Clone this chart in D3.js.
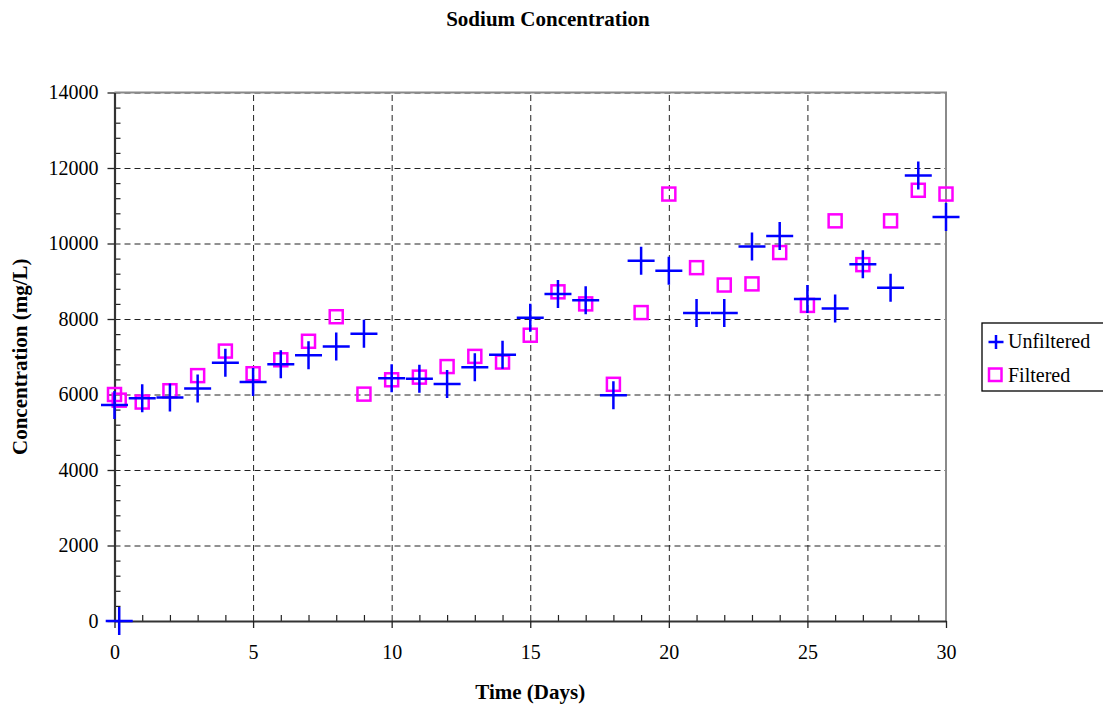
<!DOCTYPE html>
<html>
<head>
<meta charset="utf-8">
<script src="https://cdn.jsdelivr.net/npm/d3@7"></script>
<style>
  html, body { margin: 0; padding: 0; background: #fff; }
  svg { display: block; }
</style>
</head>
<body>
<svg id="chart" width="1103" height="708"></svg>
<script>
// Sampling times (days) and sodium concentrations (mg/L)
const unfilteredDays = [0, 0.17, 1, 2, 3, 4, 5, 6, 7, 8, 9, 10, 11, 12, 13, 14, 15, 16, 17, 18, 19, 20, 21, 22, 23, 24, 25, 26, 27, 28, 29, 30];
const unfilteredValues = [5720, 0, 5900, 5920, 6160, 6840, 6330, 6800, 7040, 7270, 7610, 6430, 6420, 6280, 6720, 7050, 8030, 8660, 8500, 5980, 9540, 9280, 8160, 8160, 9920, 10200, 8530, 8280, 9450, 8830, 11800, 10700];

const filteredDays = [0, 0.17, 1, 2, 3, 4, 5, 6, 7, 8, 9, 10, 11, 12, 13, 14, 15, 16, 17, 18, 19, 20, 21, 22, 23, 24, 25, 26, 27, 28, 29, 30];
const filteredValues = [6000, 5850, 5800, 6100, 6500, 7150, 6550, 6920, 7410, 8060, 6010, 6390, 6460, 6740, 7010, 6860, 7570, 8720, 8400, 6270, 8170, 11310, 9360, 8900, 8930, 9760, 8360, 10600, 9440, 10600, 11410, 11310];

const xMajorTicks = [0, 5, 10, 15, 20, 25, 30];
const yMajorTicks = [0, 2000, 4000, 6000, 8000, 10000, 12000, 14000];

const seriesNames = ["Unfiltered", "Filtered"];

const FONT = "'Liberation Serif', 'Times New Roman', Times, serif";

const svg = d3.select("#chart");
const plot = { left: 114.5, right: 946, top: 92.5, bottom: 621 };

const x = d3.scaleLinear().domain([0, 30]).range([plot.left, plot.right]);
const y = d3.scaleLinear().domain([0, 14000]).range([plot.bottom, plot.top]);

// Dashed grid at the major ticks
const grid = svg.append("g").attr("class", "grid");
grid.append("g")
  .attr("transform", `translate(0,${plot.bottom})`)
  .call(d3.axisBottom(x).tickValues(xMajorTicks).tickSize(-(plot.bottom - plot.top)).tickFormat(""))
  .call(g => g.select(".domain").remove());
grid.append("g")
  .attr("transform", `translate(${plot.left},0)`)
  .call(d3.axisLeft(y).tickValues(yMajorTicks).tickSize(-(plot.right - plot.left)).tickFormat(""))
  .call(g => g.select(".domain").remove());
grid.selectAll("line")
  .attr("stroke", "#222")
  .attr("stroke-width", 1)
  .attr("stroke-dasharray", "6,4");

// Plot frame: grey top and right edges
svg.append("path")
  .attr("d", `M${plot.left},${plot.top}H${plot.right}V${plot.bottom}`)
  .attr("fill", "none")
  .attr("stroke", "#8a8a8a")
  .attr("stroke-width", 2);

// Minor ticks pointing into the plot
const minorX = d3.range(0, 31, 1).filter(d => !xMajorTicks.includes(d));
const minorY = d3.range(0, 14001, 400).filter(d => !yMajorTicks.includes(d));
svg.append("g")
  .attr("transform", `translate(0,${plot.bottom})`)
  .call(d3.axisBottom(x).tickValues(minorX).tickSize(-6).tickFormat(""))
  .call(g => g.select(".domain").remove())
  .selectAll("line").attr("stroke", "#222").attr("stroke-width", 1.2);
svg.append("g")
  .attr("transform", `translate(${plot.left},0)`)
  .call(d3.axisLeft(y).tickValues(minorY).tickSize(-6).tickFormat(""))
  .call(g => g.select(".domain").remove())
  .selectAll("line").attr("stroke", "#222").attr("stroke-width", 1.2);

// Major axes with labels
const xAxis = svg.append("g")
  .attr("transform", `translate(0,${plot.bottom})`)
  .call(d3.axisBottom(x).tickValues(xMajorTicks).tickSizeInner(7).tickSizeOuter(0).tickPadding(17));
const yAxis = svg.append("g")
  .attr("transform", `translate(${plot.left},0)`)
  .call(d3.axisLeft(y).tickValues(yMajorTicks).tickSizeInner(7).tickSizeOuter(0).tickPadding(9).tickFormat(d3.format("d")));
[xAxis, yAxis].forEach(a => {
  a.attr("font-family", FONT).attr("font-size", 20);
  a.select(".domain").attr("stroke", "#333").attr("stroke-width", 2.2);
  a.selectAll(".tick line").attr("stroke", "#222").attr("stroke-width", 1.3);
  a.selectAll(".tick text").attr("fill", "#000");
});

// Markers
const plusPath = (w, h) => `M${-w},0H${w}M0,${-h}V${h}`;

const filtered = filteredDays.map((d, i) => ({ day: d, value: filteredValues[i] }));
const unfiltered = unfilteredDays.map((d, i) => ({ day: d, value: unfilteredValues[i] }));

svg.append("g").selectAll("rect")
  .data(filtered)
  .join("rect")
  .attr("x", d => x(d.day) - 6.5)
  .attr("y", d => y(d.value) - 6.5)
  .attr("width", 13)
  .attr("height", 13)
  .attr("fill", "none")
  .attr("stroke", "#ff00ff")
  .attr("stroke-width", 2.5);

svg.append("g").selectAll("path")
  .data(unfiltered)
  .join("path")
  .attr("transform", d => `translate(${x(d.day)},${y(d.value)})`)
  .attr("d", plusPath(13.5, 14))
  .attr("fill", "none")
  .attr("stroke", "#0000ff")
  .attr("stroke-width", 2.5);

// Titles
const titles = svg.append("g")
  .attr("font-family", FONT)
  .attr("font-size", 21)
  .attr("font-weight", "bold");

titles.append("text")
  .attr("x", 548).attr("y", 26)
  .attr("text-anchor", "middle")
  .text("Sodium Concentration");

titles.append("text")
  .attr("x", (plot.left + plot.right) / 2).attr("y", 699)
  .attr("text-anchor", "middle")
  .text("Time (Days)");

titles.append("text")
  .attr("transform", `translate(27,${(plot.top + plot.bottom) / 2}) rotate(-90)`)
  .attr("text-anchor", "middle")
  .text("Concentration (mg/L)");

// Legend
const legend = svg.append("g").attr("font-family", FONT).attr("font-size", 20);
legend.append("rect")
  .attr("x", 982).attr("y", 323)
  .attr("width", 130).attr("height", 68)
  .attr("fill", "#fff")
  .attr("stroke", "#000")
  .attr("stroke-width", 1.3);

legend.append("path")
  .attr("transform", "translate(996,342)")
  .attr("d", plusPath(7.5, 7))
  .attr("stroke", "#0000ff")
  .attr("stroke-width", 2.5);
legend.append("rect")
  .attr("x", 989).attr("y", 368.5)
  .attr("width", 12.5).attr("height", 12.5)
  .attr("fill", "none")
  .attr("stroke", "#ff00ff")
  .attr("stroke-width", 2.5);

legend.selectAll("text.lbl")
  .data(seriesNames)
  .join("text")
  .attr("class", "lbl")
  .attr("x", 1008)
  .attr("y", (d, i) => 348 + i * 34)
  .attr("fill", "#000")
  .text(d => d);
</script>
</body>
</html>
